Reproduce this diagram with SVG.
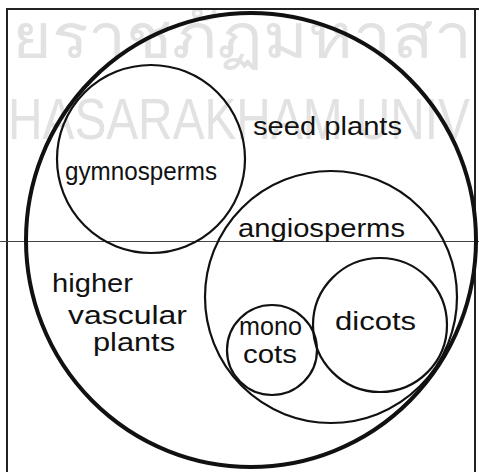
<svg xmlns="http://www.w3.org/2000/svg" width="479" height="472" viewBox="0 0 479 472">
<style>
.wm{font-family:"Liberation Sans","Noto Sans",Arial,sans-serif;fill:#e2e2e2}
.lbl{font-family:"Liberation Sans",Arial,sans-serif;font-size:25px;fill:#111}
.c{fill:none;stroke:#111}
.thin{stroke-width:2.2}
.thick{stroke-width:4}
.frame{fill:none;stroke:#222;stroke-width:2}
</style>
<rect width="479" height="472" fill="#fff"/>
<g id="watermark">
<text class="wm" x="12" y="58" font-size="62" textLength="460" lengthAdjust="spacingAndGlyphs">ยราชภัฏมหาสา</text>
<text class="wm" x="8" y="139" font-size="58" textLength="462" lengthAdjust="spacingAndGlyphs">HASARAKHAM UNIV</text>
</g>
<g id="frame">
<path class="frame" d="M7,472 V9 H479"/>
<path class="frame" d="M475,9 V472" stroke-width="1.2"/>
<line x1="0" y1="241.5" x2="479" y2="241.5" stroke="#444" stroke-width="1"/>
</g>
<g id="connectors"></g>
<g id="higher-vascular-plants">
<ellipse class="c thick" cx="251" cy="240" rx="225" ry="227"/>
<text class="lbl" x="52" y="292" font-size="22" textLength="81" lengthAdjust="spacingAndGlyphs">higher</text>
<text class="lbl" x="68" y="324" font-size="22" textLength="119" lengthAdjust="spacingAndGlyphs">vascular</text>
<text class="lbl" x="93" y="351" font-size="22" textLength="82" lengthAdjust="spacingAndGlyphs">plants</text>
</g>
<g id="seed-plants">
<text class="lbl" x="253" y="135" textLength="149" lengthAdjust="spacingAndGlyphs">seed plants</text>
</g>
<g id="gymnosperms">
<circle class="c thin" cx="151" cy="159" r="94"/>
<text class="lbl" x="65" y="180" font-size="24" textLength="152" lengthAdjust="spacingAndGlyphs">gymnosperms</text>
</g>
<g id="angiosperms">
<circle class="c thin" cx="331" cy="297" r="126"/>
<text class="lbl" x="238" y="237" textLength="167" lengthAdjust="spacingAndGlyphs">angiosperms</text>
</g>
<g id="dicots">
<circle class="c thin" cx="380" cy="325" r="67"/>
<text class="lbl" x="335" y="330" textLength="81" lengthAdjust="spacingAndGlyphs">dicots</text>
</g>
<g id="monocots">
<circle class="c thin" cx="272" cy="350" r="45"/>
<text class="lbl" x="239" y="335" font-size="22" textLength="63" lengthAdjust="spacingAndGlyphs">mono</text>
<text class="lbl" x="243" y="363" font-size="22" textLength="54" lengthAdjust="spacingAndGlyphs">cots</text>
</g>
</svg>
